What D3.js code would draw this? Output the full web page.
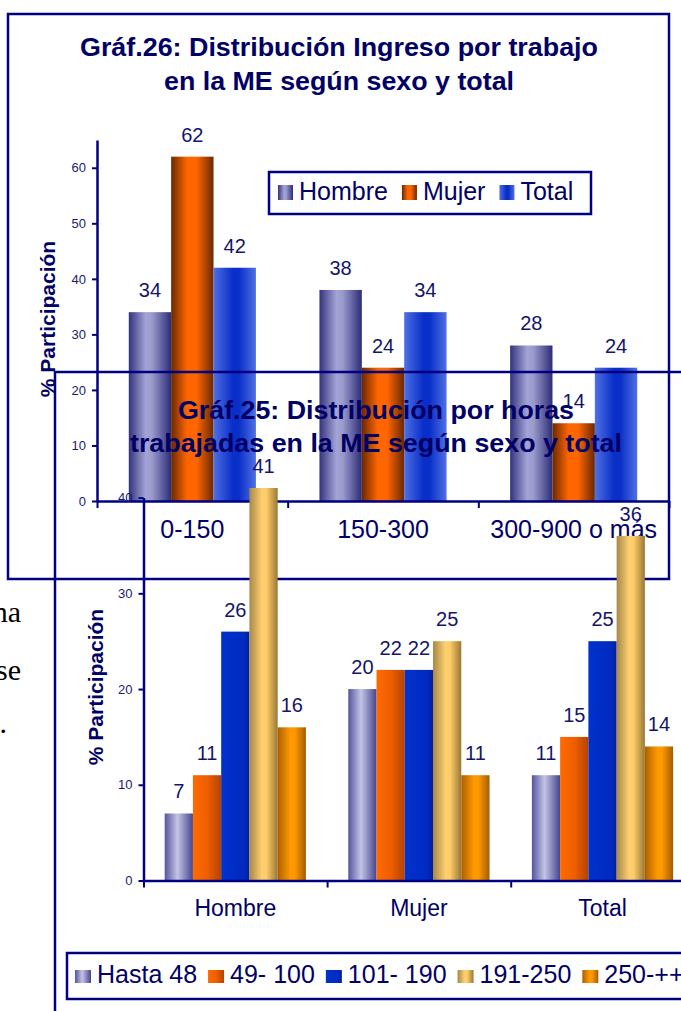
<!DOCTYPE html>
<html>
<head>
<meta charset="utf-8">
<script src="https://cdn.jsdelivr.net/npm/d3@7"></script>
<style>
  body { margin: 0; background: #fff; }
  svg { display: block; font-family: "Liberation Sans", Arial, sans-serif; }
</style>
</head>
<body>
<div id="chart"></div>
<script>
// --- Gráf.26 : ingreso por trabajo ---
const cats26 = ["0-150", "150-300", "300-900 o más"];
const series26 = ["Hombre", "Mujer", "Total"];
const hombre26 = [34, 38, 28];
const mujer26 = [62, 24, 14];
const total26 = [42, 34, 24];
const yTicks26 = [0, 10, 20, 30, 40, 50, 60];

// --- Gráf.25 : horas trabajadas ---
const cats25 = ["Hombre", "Mujer", "Total"];
const series25 = ["Hasta 48", "49- 100", "101- 190", "191-250", "250-++"];
const hasta48 = [7, 20, 11];
const h49a100 = [11, 22, 15];
const h101a190 = [26, 22, 25];
const h191a250 = [41, 25, 36];
const h250mas = [16, 11, 14];
const yTicks25 = [0, 10, 20, 30, 40];

const W = 681, H = 1011;
const navy = "#000080", ink = "#000066";

const svg = d3.select("#chart").append("svg").attr("width", W).attr("height", H);
const defs = svg.append("defs");

function grad(id, stops) {
  const g = defs.append("linearGradient").attr("id", id)
    .attr("x1", 0).attr("x2", 1).attr("y1", 0).attr("y2", 0);
  stops.forEach(([o, c]) => g.append("stop").attr("offset", o).attr("stop-color", c));
  return `url(#${id})`;
}

// relleno con degradado tipo Excel
const fill26 = [
  grad("g26a", [[0, "#33337d"], [0.4, "#a3a3d6"], [0.55, "#9a9acc"], [1, "#2c2c78"]]),
  grad("g26b", [[0, "#6a2800"], [0.38, "#ff6600"], [0.6, "#ff6600"], [1, "#6a2800"]]),
  grad("g26c", [[0, "#4f70e4"], [0.45, "#0a2fc8"], [0.6, "#0a2fc8"], [1, "#4f70e4"]])
];
const fill25 = [
  grad("g25a", [[0, "#55559f"], [0.45, "#c4c4e6"], [1, "#45458f"]]),
  grad("g25b", [[0, "#ff6a00"], [0.5, "#ef5f00"], [1, "#b44300"]]),
  grad("g25c", [[0, "#0032cc"], [0.8, "#002ac0"], [1, "#001f98"]]),
  grad("g25d", [[0, "#a68848"], [0.45, "#ffd070"], [0.6, "#ffcc66"], [1, "#987838"]]),
  grad("g25e", [[0, "#ad6000"], [0.45, "#ff9900"], [0.6, "#ff9900"], [1, "#a45c00"]])
];

// restos del texto del documento, a la izquierda
const docText = [["na", 622, 21], ["se", 680, 21], [".", 733, 7]];
svg.append("g").selectAll("text").data(docText).join("text")
  .attr("x", d => d[2]).attr("y", d => d[1]).attr("text-anchor", "end")
  .style("font-family", "'Liberation Serif', 'Times New Roman', serif")
  .style("font-size", "30px").attr("fill", "#000").text(d => d[0]);

function drawChart(o) {
  const g = svg.append("g");

  g.append("rect")
    .attr("x", o.frame[0]).attr("y", o.frame[1])
    .attr("width", o.frame[2]).attr("height", o.frame[3])
    .attr("fill", o.frameFill).attr("stroke", navy).attr("stroke-width", 2.5);

  o.title.forEach((t, i) => {
    g.append("text")
      .attr("x", o.titleX).attr("y", o.titleY[i]).attr("text-anchor", "middle")
      .attr("textLength", o.titleLen[i]).attr("lengthAdjust", "spacingAndGlyphs")
      .style("font-size", "26px").style("font-weight", "bold")
      .attr("fill", ink).text(t);
  });

  const x = d3.scaleBand().domain(o.cats).range(o.xRange);
  const xs = d3.scaleBand().domain(o.series).range([0, x.bandwidth()]).paddingOuter(0.75);
  const y = d3.scaleLinear().domain(o.yDomain).range(o.yRange);

  const rows = [];
  o.series.forEach((s, si) => {
    o.cats.forEach((c, ci) => rows.push({ cat: c, key: s, si: si, value: o.values[si][ci] }));
  });

  g.append("g").selectAll("rect").data(rows).join("rect")
    .attr("x", d => x(d.cat) + xs(d.key))
    .attr("y", d => y(d.value))
    .attr("width", xs.bandwidth())
    .attr("height", d => y(0) - y(d.value))
    .attr("fill", d => o.fills[d.si]);

  // eje Y
  const yAxis = g.append("g")
    .attr("transform", `translate(${o.xRange[0]},0)`)
    .call(d3.axisLeft(y).tickValues(o.yTicks).tickSize(5).tickSizeOuter(0).tickPadding(6));
  yAxis.select(".domain").attr("stroke", navy).attr("stroke-width", 2.5);
  yAxis.selectAll(".tick line").attr("stroke", navy).attr("stroke-width", 2);
  yAxis.selectAll(".tick text").attr("fill", "#1a1a70").style("font-size", "13px");

  // eje X: línea y marcas entre categorías
  const xb = d3.scaleLinear().domain([0, o.cats.length]).range(o.xRange);
  const xLine = g.append("g")
    .attr("transform", `translate(0,${y(0)})`)
    .call(d3.axisBottom(xb).tickValues(d3.range(o.cats.length + 1))
      .tickSize(7).tickSizeOuter(0).tickFormat(""));
  xLine.select(".domain").attr("stroke", navy).attr("stroke-width", 2.5);
  xLine.selectAll(".tick line").attr("stroke", navy).attr("stroke-width", 2);

  const xLab = g.append("g")
    .attr("transform", `translate(0,${y(0)})`)
    .call(d3.axisBottom(x).tickSize(0));
  xLab.select(".domain").remove();
  xLab.selectAll(".tick text")
    .attr("y", o.catDy).attr("dy", null)
    .attr("fill", ink).style("font-size", o.catSize);

  // etiquetas de valor
  g.append("g").selectAll("text").data(rows).join("text")
    .attr("x", d => x(d.cat) + xs(d.key) + xs.bandwidth() / 2)
    .attr("y", d => y(d.value) - 15)
    .attr("text-anchor", "middle")
    .style("font-size", "20px").attr("fill", "#14146a")
    .text(d => d.value);

  // título del eje Y
  g.append("text")
    .attr("transform", `translate(${o.yTitle[0]},${o.yTitle[1]}) rotate(-90)`)
    .attr("text-anchor", "middle")
    .style("font-size", "21px").style("font-weight", "bold")
    .attr("fill", ink).text("% Participación");

  // leyenda
  const lg = g.append("g");
  lg.append("rect")
    .attr("x", o.legBox[0]).attr("y", o.legBox[1])
    .attr("width", o.legBox[2]).attr("height", o.legBox[3])
    .attr("fill", "none").attr("stroke", navy).attr("stroke-width", 2.5);
  let cx = o.legStart;
  o.series.forEach((s, si) => {
    lg.append("rect")
      .attr("x", cx).attr("y", o.legSw[0])
      .attr("width", o.legSw[2]).attr("height", o.legSw[1])
      .attr("fill", o.fills[si]);
    const t = lg.append("text")
      .attr("x", cx + o.legSw[2] + 6).attr("y", o.legBase)
      .style("font-size", "25px").attr("fill", ink).text(s);
    cx = cx + o.legSw[2] + 6 + t.node().getComputedTextLength() + o.legGap;
  });
}

// Gráf.26 (abajo en la pila)
drawChart({
  frame: [8, 14, 661, 565], frameFill: "#fff",
  title: ["Gráf.26: Distribución Ingreso por trabajo", "en la ME según sexo y total"],
  titleX: 339, titleY: [56, 90], titleLen: [518, 350],
  cats: cats26, series: series26, values: [hombre26, mujer26, total26],
  fills: fill26,
  xRange: [97, 669], yDomain: [0, 65], yRange: [501, 140], yTicks: yTicks26,
  catDy: 37, catSize: "25px",
  yTitle: [55, 319],
  legBox: [269, 172, 322, 42], legSw: [185, 15, 15], legStart: 278, legBase: 200, legGap: 14
});

// Gráf.25 (encima, sin fondo)
drawChart({
  frame: [55, 372, 700, 700], frameFill: "none",
  title: ["Gráf.25: Distribución por horas", "trabajadas en la ME según sexo y total"],
  titleX: 376, titleY: [419, 452], titleLen: [396, 492],
  cats: cats25, series: series25, values: [hasta48, h49a100, h101a190, h191a250, h250mas],
  fills: fill25,
  xRange: [143.5, 694.3], yDomain: [0, 40], yRange: [880.5, 497.6], yTicks: yTicks25,
  catDy: 35.5, catSize: "23px",
  yTitle: [103, 687],
  legBox: [67, 953, 700, 46], legSw: [970, 13, 16], legStart: 75, legBase: 983, legGap: 11
});
</script>
</body>
</html>
